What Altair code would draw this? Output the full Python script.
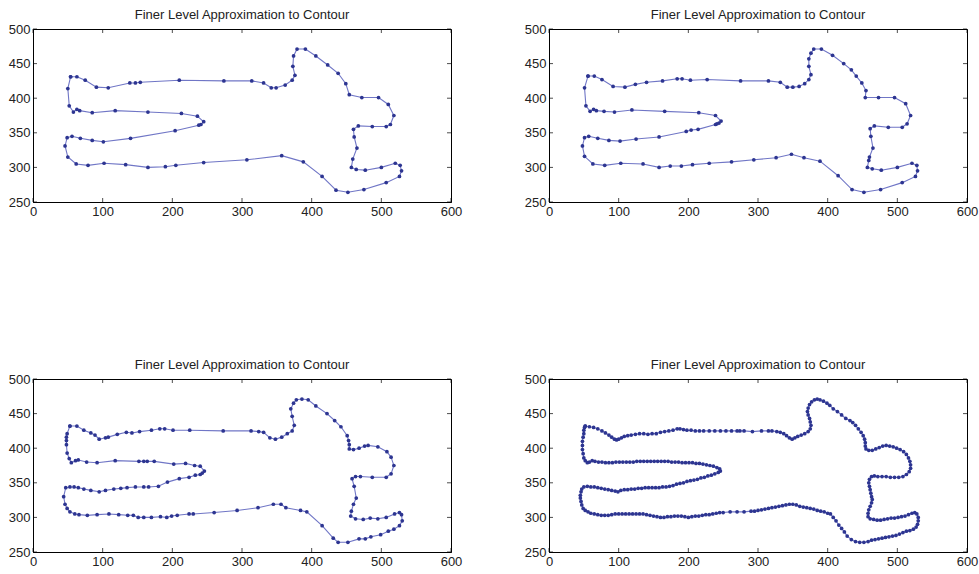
import altair as alt
import pandas as pd

TITLE = "Finer Level Approximation to Contour"
X_TICKS = [0, 100, 200, 300, 400, 500, 600]
Y_TICKS = [250, 300, 350, 400, 450, 500]

# Panel 1 contour points (x, y)
p1_pts = [
    (54, 431), (63, 431), (75, 426), (91, 416), (108, 415), (139, 422), (147, 422), (154, 423),
    (210, 426), (274, 425), (314, 425), (331, 422), (342, 415), (349, 415), (362, 419), (372, 426),
    (376, 433), (373, 446), (374, 461), (379, 471), (391, 471), (406, 461), (423, 448), (438, 436),
    (449, 421), (454, 405), (472, 401), (496, 401), (510, 391), (518, 375), (513, 362), (507, 359),
    (487, 359), (467, 360), (460, 355), (461, 344), (465, 328), (459, 312), (457, 300), (464, 297),
    (477, 296), (500, 300), (520, 306), (527, 303), (529, 295), (526, 287), (507, 278), (475, 268),
    (452, 264), (435, 267), (415, 287), (388, 308), (357, 317), (307, 311), (245, 307), (205, 303),
    (190, 301), (165, 300), (133, 304), (102, 306), (79, 303), (62, 305), (50, 315), (46, 331),
    (49, 343), (56, 345), (68, 342), (85, 339), (101, 337), (140, 342), (204, 353), (238, 361),
    (241, 362), (245, 366), (236, 374), (213, 378), (165, 380), (118, 382), (85, 379), (67, 382),
    (63, 384), (58, 380), (52, 389), (50, 414),
]

# Panel 2 contour points (x, y)
p2_pts = [
    (56, 432), (65, 432), (76, 427), (92, 417), (109, 416), (124, 420), (140, 423), (163, 425),
    (184, 428), (191, 428), (203, 426), (227, 427), (275, 425), (315, 425), (332, 423), (342, 416),
    (350, 416), (359, 417), (367, 421), (373, 427), (376, 434), (373, 446), (373, 457), (376, 465),
    (380, 471), (391, 471), (407, 462), (423, 450), (434, 441), (441, 432), (449, 422), (455, 411),
    (454, 401), (473, 401), (496, 401), (512, 392), (519, 375), (514, 363), (507, 358), (487, 358),
    (467, 360), (461, 356), (462, 345), (465, 328), (460, 315), (459, 310), (457, 300), (464, 298),
    (477, 296), (500, 300), (521, 306), (528, 303), (529, 295), (526, 287), (507, 278), (476, 268),
    (452, 264), (435, 268), (415, 288), (389, 309), (366, 314), (348, 319), (326, 314), (294, 311),
    (262, 308), (230, 306), (206, 304), (190, 302), (174, 302), (158, 300), (135, 305), (103, 306),
    (80, 303), (63, 305), (51, 316), (48, 331), (51, 343), (57, 345), (70, 342), (86, 339),
    (102, 338), (125, 341), (158, 344), (197, 352), (204, 354), (214, 355), (239, 362), (241, 363),
    (244, 364), (247, 367), (239, 375), (215, 379), (166, 381), (119, 383), (94, 380), (79, 381),
    (68, 382), (64, 384), (59, 381), (53, 389), (51, 415),
]

# Panel 3 contour points (x, y)
p3_pts = [
    (53, 432), (63, 432), (73, 426), (83, 422), (89, 419), (95, 413), (104, 415), (108, 416),
    (121, 420), (134, 423), (142, 422), (153, 424), (170, 426), (182, 428), (189, 428), (201, 426),
    (225, 426), (273, 425), (313, 425), (324, 424), (331, 423), (340, 415), (348, 413), (357, 416),
    (365, 421), (372, 425), (375, 433), (372, 446), (370, 457), (374, 465), (378, 470), (386, 471),
    (395, 470), (406, 461), (422, 450), (433, 440), (442, 431), (451, 418), (453, 411), (454, 405),
    (454, 399), (460, 398), (468, 400), (476, 403), (481, 404), (495, 402), (508, 395), (514, 387),
    (518, 375), (514, 363), (507, 358), (487, 358), (470, 359), (463, 359), (458, 356), (461, 345),
    (464, 328), (460, 319), (457, 309), (456, 302), (463, 298), (474, 297), (484, 299), (495, 298),
    (507, 300), (519, 305), (526, 307), (529, 304), (530, 295), (526, 288), (518, 283), (510, 280),
    (499, 275), (485, 272), (477, 269), (468, 269), (452, 264), (438, 264), (431, 270), (415, 288),
    (393, 308), (384, 310), (363, 314), (356, 319), (345, 319), (323, 314), (293, 310), (260, 307),
    (230, 305), (224, 305), (207, 303), (199, 302), (192, 300), (183, 301), (170, 300), (159, 300),
    (151, 300), (144, 303), (136, 303), (123, 304), (109, 305), (92, 304), (78, 303), (66, 304),
    (60, 305), (53, 308), (49, 313), (46, 319), (44, 330), (47, 343), (53, 344), (59, 344),
    (65, 343), (73, 341), (83, 339), (95, 337), (104, 339), (116, 341), (126, 342), (135, 343),
    (147, 344), (159, 344), (166, 344), (180, 345), (193, 351), (210, 356), (224, 358), (233, 361),
    (240, 362), (243, 364), (246, 367), (240, 374), (232, 375), (219, 378), (202, 377), (174, 381),
    (164, 381), (159, 381), (152, 381), (118, 382), (92, 379), (77, 380), (65, 383), (61, 382),
    (55, 379), (52, 385), (49, 393), (48, 405), (48, 411), (48, 416), (49, 421),
]

# Panel 4 contour points (x, y)
p4_pts = [
    (52, 432), (58, 431), (64, 430), (70, 428), (76, 425), (81, 422), (86, 419), (90, 416),
    (94, 413), (97, 412), (100, 413), (104, 415), (108, 417), (113, 418), (118, 419), (124, 420),
    (130, 421), (136, 421), (142, 420), (148, 421), (154, 421), (160, 423), (166, 424), (172, 425),
    (178, 426), (184, 428), (188, 428), (193, 427), (198, 426), (204, 426), (210, 425), (216, 425),
    (222, 425), (230, 425), (238, 425), (246, 425), (254, 425), (262, 425), (270, 425), (274, 425),
    (280, 425), (292, 424), (305, 425), (315, 425), (320, 425), (327, 424), (332, 423), (337, 421),
    (341, 418), (345, 415), (349, 413), (353, 415), (357, 417), (362, 419), (367, 421), (372, 424),
    (375, 428), (376, 433), (375, 438), (374, 443), (372, 448), (371, 453), (372, 458), (374, 463),
    (377, 467), (381, 470), (385, 471), (389, 470), (394, 468), (399, 465), (403, 462), (408, 457),
    (414, 453), (420, 448), (426, 443), (432, 440), (436, 437), (440, 433), (444, 428), (448, 423),
    (451, 418), (453, 413), (454, 408), (454, 403), (455, 399), (459, 397), (464, 397), (469, 399),
    (474, 401), (479, 403), (484, 404), (489, 403), (494, 402), (499, 400), (504, 398), (509, 395),
    (513, 391), (516, 386), (518, 381), (519, 376), (519, 371), (517, 366), (513, 362), (508, 359),
    (502, 358), (496, 358), (490, 358), (484, 359), (478, 359), (472, 359), (467, 360), (463, 359),
    (460, 355), (459, 350), (460, 345), (461, 340), (462, 335), (463, 330), (464, 326), (463, 321),
    (461, 316), (459, 311), (458, 306), (458, 301), (461, 298), (466, 297), (471, 296), (476, 296),
    (481, 297), (486, 298), (491, 299), (496, 299), (501, 300), (506, 301), (511, 302), (516, 304),
    (521, 306), (525, 307), (528, 305), (530, 300), (530, 295), (529, 290), (527, 286), (523, 283),
    (518, 281), (513, 280), (508, 278), (503, 276), (498, 274), (493, 273), (488, 272), (483, 271),
    (478, 270), (473, 269), (468, 268), (463, 267), (458, 265), (452, 264), (446, 264), (440, 265),
    (434, 268), (428, 273), (424, 279), (420, 284), (416, 289), (412, 295), (408, 300), (404, 305),
    (400, 306), (395, 308), (390, 309), (385, 310), (380, 312), (375, 313), (370, 314), (365, 315),
    (360, 316), (355, 318), (350, 319), (345, 319), (340, 318), (335, 317), (330, 316), (325, 315),
    (320, 314), (315, 313), (310, 312), (305, 311), (300, 310), (295, 309), (290, 309), (280, 308),
    (270, 308), (260, 308), (250, 307), (245, 307), (240, 306), (235, 305), (230, 304), (225, 304),
    (220, 303), (215, 302), (210, 302), (205, 301), (200, 300), (195, 301), (190, 302), (185, 302),
    (180, 302), (175, 301), (170, 301), (165, 300), (160, 300), (155, 301), (150, 302), (145, 303),
    (140, 304), (135, 305), (130, 305), (125, 305), (120, 305), (115, 305), (110, 305), (105, 305),
    (100, 305), (95, 305), (90, 304), (85, 303), (80, 303), (75, 303), (70, 304), (65, 305),
    (60, 306), (56, 308), (52, 310), (49, 313), (47, 318), (46, 323), (45, 328), (45, 332),
    (46, 337), (47, 341), (50, 344), (55, 345), (60, 344), (65, 344), (70, 343), (75, 342),
    (80, 341), (85, 340), (90, 339), (95, 338), (99, 337), (103, 339), (108, 340), (113, 340),
    (118, 341), (123, 341), (128, 342), (133, 342), (138, 343), (143, 343), (148, 343), (153, 343),
    (158, 343), (163, 344), (168, 344), (173, 345), (178, 346), (183, 348), (188, 349), (193, 350),
    (198, 352), (203, 353), (208, 354), (213, 355), (218, 357), (223, 358), (228, 360), (233, 361),
    (238, 363), (243, 365), (246, 367), (245, 370), (241, 372), (236, 374), (231, 375), (226, 376),
    (221, 377), (216, 378), (211, 378), (206, 379), (201, 379), (196, 379), (191, 379), (186, 380),
    (181, 380), (176, 380), (171, 381), (166, 381), (161, 381), (156, 381), (151, 381), (146, 381),
    (141, 381), (136, 381), (131, 381), (126, 381), (121, 380), (116, 380), (111, 380), (106, 380),
    (101, 380), (96, 380), (91, 379), (86, 379), (81, 379), (76, 380), (71, 380), (66, 381),
    (62, 382), (58, 380), (55, 379), (52, 382), (50, 386), (49, 392), (48, 398), (48, 404),
    (48, 410), (49, 416), (50, 421), (50, 426), (51, 430),
]

LINE_COLOR = "#7076C6"
MARK_COLOR = "#2D3591"
FONT = "Liberation Sans"

xscale = alt.Scale(domain=[0, 600], nice=False, zero=False)
yscale = alt.Scale(domain=[250, 500], nice=False, zero=False)
XAXIS = alt.Axis(values=X_TICKS, tickSize=0, grid=False, labelPadding=3, domainColor="black",
                 title=None, labelFlush=False, labelOverlap=False)
YAXIS = alt.Axis(values=Y_TICKS, tickSize=0, grid=False, labelPadding=3, domainColor="black",
                 title=None, labelFlush=False, labelOverlap=False)


def panel(pts, w, h):
    closed = pts + [pts[0]]
    df = pd.DataFrame({"x": [p[0] for p in closed], "y": [p[1] for p in closed],
                       "i": list(range(len(closed)))})
    base = alt.Chart(df)
    line = base.mark_line(color=LINE_COLOR, strokeWidth=1.1).encode(
        x=alt.X("x:Q", scale=xscale, axis=XAXIS),
        y=alt.Y("y:Q", scale=yscale, axis=YAXIS),
        order="i:Q",
    )
    dots = base.mark_point(filled=True, color=MARK_COLOR, size=14, opacity=1, shape="circle").encode(
        x=alt.X("x:Q", scale=xscale, axis=XAXIS), y=alt.Y("y:Q", scale=yscale, axis=YAXIS)
    )
    xt = alt.Chart(pd.DataFrame({"tx": X_TICKS}))
    yt = alt.Chart(pd.DataFrame({"ty": Y_TICKS}))
    tb = xt.mark_tick(color="black", orient="vertical", size=4, thickness=1).encode(
        x=alt.X("tx:Q", scale=xscale, axis=XAXIS), y=alt.value(h - 2))
    tt = xt.mark_tick(color="black", orient="vertical", size=4, thickness=1).encode(
        x=alt.X("tx:Q", scale=xscale, axis=XAXIS), y=alt.value(2))
    tl = yt.mark_tick(color="black", orient="horizontal", size=4, thickness=1).encode(
        y=alt.Y("ty:Q", scale=yscale, axis=YAXIS), x=alt.value(2))
    tr = yt.mark_tick(color="black", orient="horizontal", size=4, thickness=1).encode(
        y=alt.Y("ty:Q", scale=yscale, axis=YAXIS), x=alt.value(w - 2))
    return alt.layer(line, dots, tb, tt, tl, tr).properties(
        width=w, height=h,
        title=alt.TitleParams(TITLE, fontSize=13, font=FONT, fontWeight="normal",
                              color="#222222", offset=1),
    )


W, H = 418, 173
chart = alt.concat(
    panel(p1_pts, W, H), panel(p2_pts, W, H), panel(p3_pts, W, H), panel(p4_pts, W, H),
    columns=2, spacing={"row": 177, "column": 98}, bounds="flush",
).properties(
    padding={"left": 7, "top": 8, "right": 0, "bottom": 0}, background="white"
).configure_view(stroke="black", strokeWidth=1).configure_axis(
    labelFont=FONT, labelFontSize=13, labelColor="#222222", domainWidth=1
)

chart.save("out.html", embed_options={"renderer": "svg", "actions": False})
